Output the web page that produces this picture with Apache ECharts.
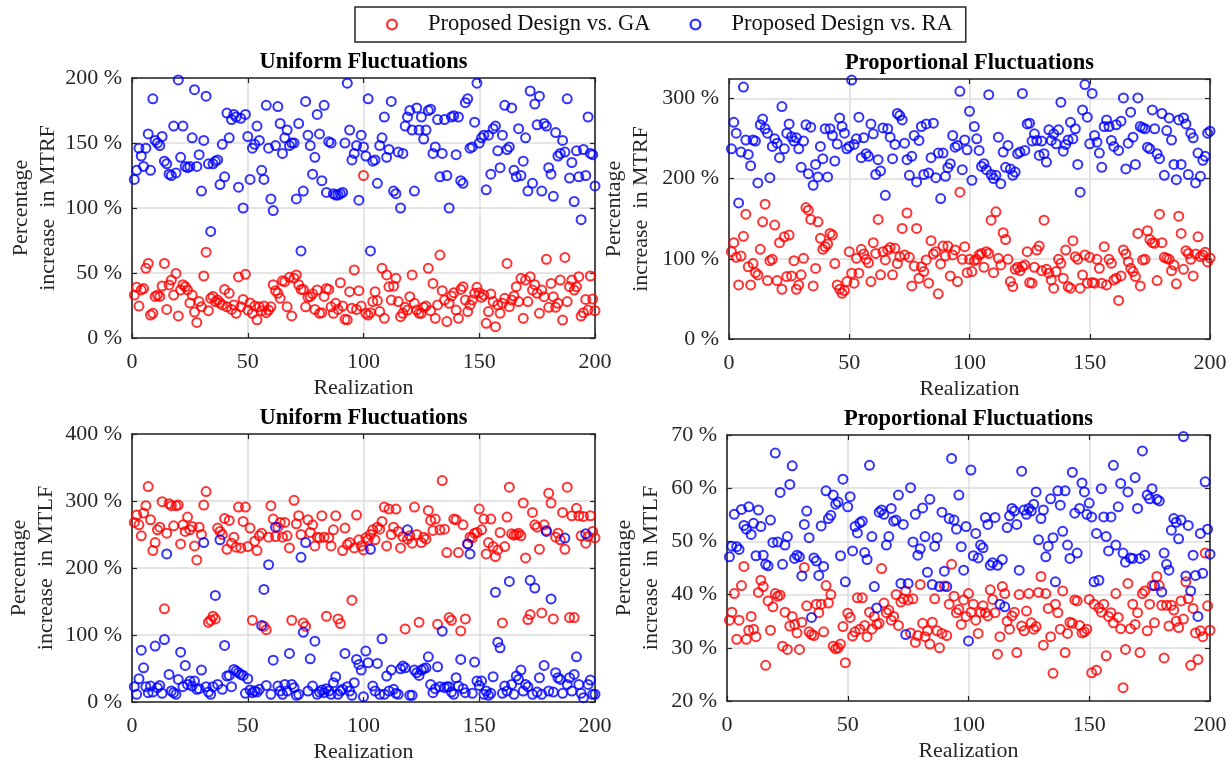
<!DOCTYPE html>
<html>
<head>
<meta charset="utf-8">
<title>Percentage increase in MTRF / MTLF</title>
<script src="https://cdn.jsdelivr.net/npm/echarts@6/dist/echarts.min.js"></script>
<style>
  html, body { margin: 0; padding: 0; background: #fff; }
  #chart { width: 1232px; height: 767px; }
</style>
</head>
<body>
<div id="chart"></div>
<script>
// values, one per realization 1..200

// MTRF, uniform fluctuations
const tlGA = [
  33,39,24.6,37,38,53.6,57.4,17.7,19,32, 33,32,40,57.4,22,40.8,44.6,33,49.7,17,
  37,41,39.5,37,27,33,20,12,28,24, 47.7,66,21,30.5,32,28,29.2,27,25.4,37.4,
  24,34.4,22,25.4,19,47,24,29.7,49,21.5, 27,19,24.6,14,24,21,24.6,19.5,21.5,24,
  41,36.4,34.4,30.5,44,43.3,24,46.7,17,46, 48.5,41,37.4,37.4,24,31.3,32,34,22,37,
  19,19.5,32,38,37.4,24,19,26.7,22,42.5, 24.6,14.4,14,35.6,22.8,52.3,22,36.4,24.6,125,
  19,17.7,19.5,28,35.6,28.7,20.3,53.6,15.1,48.5, 39.5,29.2,40,45.9,28,16.4,19,23.6,21.5,31.8,
  48.5,26.7,21.5,19,19,23.6,24.6,53.6,21,42, 15.1,25.4,63.8,36.4,29.2,12.6,26.7,32.3,34.9,21.5,
  15.1,37.4,39.5,29.2,20.3,25.4,29.2,34.4,39,34.9, 31.3,33,11.3,20.3,33.8,28,8.7,25.4,19,26.7,
  30.5,57.4,24.1,29.2,32.3,39.5,28,45.9,15.1,44.6, 28,47.2,36.9,41,34.4,19,36.9,31.8,60.5,23.6,
  42,31.8,23.6,26.7,44.6,13.8,62,28,39.5,44.6, 36.9,39.5,47.2,16.9,19.5,29.7,21.5,47.7,30,21
];
const tlRA = [
  122,129,146,140,132,146,157,129,184,152, 150,148,155,136,134,126,125,163,127,198.5,
  139,163,132,131,132,154,191,132,141,113, 152,186,134,82,134,136,137,118,149,124,
  173,154,168,172,170,116,169,100,172,155, 122,146,149,163,152,129,122,179,146,107,
  98,148,178,165,142,154,160,148,150,150, 107,165,67,113,182,156,148,126,139,172,
  157,121,179,112,151,150,111,110,110,111, 112,150,196,160,137,142,148,106,156,147,
  140,184,67,136,137,119,148,154,170,139, 145,182,113,111,143,100,142,163,170,175,
  160,113,177,160,170,153,160,175,176,142, 147,168,124,142,168,125,100,170,171,141,
  170,121,119,181,184,146,147,166,196,150, 154,156,114,156,126,161,163,144,131,156,
  179,145,147,177,129,124,161,125,136,154, 113,190,119,180,164,186,113,165,163,131,
  126,109,158,140,142,152,143,184,123,135, 105,144,124,91,145,125,170,142,141,117
];

// MTRF, proportional fluctuations
const trGA = [
  108.8,120,101.8,67.4,103.4,128,155.6,90,67.4,94, 82.7,79.8,111.7,146,168,72.8,97.6,99.3,142,72.8,
  120,62,127.4,77.8,129.5,78.6,97.6,62,67.4,80, 100.5,163.8,160.5,149,66.2,88,146,125.4,111.7,115,
  118.3,131.6,129.5,94,67.4,62,57,60.4,71.6,108.8, 82,69.5,100.5,82,111.7,106,99.3,95,71.6,120,
  106.7,149,80,108.8,98.5,111,114,80,113,94, 102.6,137.8,104.7,157,101.8,66.2,91,137.8,75.7,90,
  84,98.5,69.5,122.5,106,108.8,56.3,93.5,115.8,103.4, 115.8,78.6,104.7,111,71.6,183,99.3,115,82.7,
  99.3,84,97.6,99.3,104.7,106.7,89.4,108.8,106.7,148, 82.7,158.5,100.5,92.3,132.4,124,99.3,71.6,65.4,86.9,
  89.4,85.2,90.2,92.3,108.8,70.3,69.5,89.4,110.9,115.8, 85.2,148,86.9,82,73.6,63.3,84,99.3,94.3,75.7,
  110.9,65.4,63.3,122.5,102.6,99.3,63.3,79.8,104.7,69.5, 101.8,70.3,69.5,99.3,88.1,69.5,115,67.4,99.3,94.3,
  73.6,75.7,48,78.6,110.9,106,96.4,88.1,84,77.8, 131.6,66.2,98.5,99.3,134.9,124,120,119.2,72.8,155.6,
  120,101.8,100.5,99.3,85.2,92.3,68.7,153,131.6,86.9, 110,106.7,99.3,78.6,106,127.4,102.6,104.7,108,96,101
];
const trRA = [
  237,270,256.5,169.6,233,314,248,230,216,248, 246.6,194.5,267,274,262,256.5,201,240,249.5,244,
  226,289.6,237,256.5,268,252,246.6,250.7,237,214, 246.6,267,206,264,191.6,217.6,202,240,224.7,262,
  202,262,253.6,221.8,243,275.5,264.8,256.5,237,240, 322.7,242.4,249.5,276.4,226,250.7,230.9,227.6,268,255.7,
  205,223.4,209.4,263,179,262,251.5,224.7,242.4,281, 278.4,273,244,223.4,204,227.6,253.6,195.7,247.4,264.8,
  205,268,207,226,269,201,231.7,175,231.7,202.7, 213.5,218.4,253.6,239,241.2,308.6,211,248,235.8,283.8,
  197.8,264.8,249.5,235,215,218.4,211,304.5,205,200, 204,251.5,193.6,233,214,241.2,212,204,208,230.9,
  233,306,235,268,269,246.6,255.7,247.4,228.8,246.6, 230.9,220.5,260.7,247.4,255.7,243.3,260.7,295,234,242.4,
  248,270,249.5,262,217.6,183,285.5,317,276.4,243.3, 306,253.6,245.3,231.7,214,264.8,273,264.8,247.4,240,
  267,235,271.4,300.4,212,244,282.6,251.5,217.6,300.4, 264.8,263,262,239,237,285.5,262,230.9,224.7,281,
  204,259.8,275.5,248,217.6,198.6,273,217.6,275.5,268, 205,256.5,250.7,194.5,231.7,202.7,222.6,227.6,256.5,259
];

// MTLF, uniform fluctuations
const blGA = [
  268,279,264.5,248,282,293,321.6,272,226,238, 257,261,299,139,252,296,293,263,293,294,
  236,264.5,254.6,276,257,262,233,212,261,250, 294,314,119,122,128,124,259.6,254.6,250,274,
  228,271,237,246,231,291,230,269.5,291,232, 259.6,122,240,226,248,252,113,108,246,293,
  273,247,261,268,246,268,248,230,122,301, 266,278,250,118,113,272,253,264.5,233,246,
  245,278,246,128,245,233,257,278,124,117, 226,259.6,235,238,152,230,279,242,233,227,
  245,242,250,257,242,261,258,269.5,291,233, 288,250,261,288,254.6,230,247,109,243,248,
  237,291,250,119,238,246,243,286,271,256, 273,116,257,330.5,258,223,126,122,273,272,
  223,106,264.5,124,236,246,245,252,253,288, 257,273,221,238,273,232,217,227,253,118,
  232,276,320.6,251,249,250,252,248,297,215, 123,130.5,283,264.5,261,228,133,264.5,256,311.6,
  297,124,246,252,242,283,228,320.6,126,278, 126,289,278,248,277,237,247,278,254.6,245
];
const blRA = [
  22.8,11.4,34.7,77.4,51,22.8,13.9,23.8,14.9,83.4, 21.3,24.8,12.9,93.3,221,41.2,16.4,13.9,11.4,33.7,
  74.4,22.8,54.6,26.3,31.3,23.8,31.3,18.9,19.9,47.6, 238,22.8,14.9,11.4,22.8,159,26.3,242,18.9,84.4,
  38.7,39.7,22.8,48.6,46.2,43.7,41.2,39.7,12.9,34.7, 17.9,13.9,16.4,14.9,18.9,114,168,24.8,205,11.4,
  62.5,261,23.8,16.4,11.4,26.3,16.4,72.5,26.3,21.3, 9.9,11.4,216,104,238,16.4,64.5,23.8,90.8,11.4,
  14.9,17.9,13.9,19.9,16.4,11.4,28.8,37.7,11.4,16.4, 18.9,72.5,22.8,16.4,9.9,28.8,63.5,56,47.6,7.9,
  76,58.6,228,23.8,16.4,57.6,11.4,94.3,11.4,38.7, 16.4,47.6,18.9,12.9,11.4,49.6,53.6,51,257,9.9,
  9.9,47.6,43.7,39.7,47.6,49.6,51,67.5,26.3,13.9, 19.9,52.6,22.8,105.7,21.3,22.8,22.8,14.9,11.4,36.2,
  23.8,63.5,19.9,13.9,236,221,12.9,59.6,31.3,24.8, 31.3,11.4,16.4,9.9,12.9,37.7,163.8,89.3,80.9,12.9,
  23.8,16.4,180,26.3,11.4,38.7,33.7,47.6,16.4,26.3, 22.8,181.6,11.4,170,14.9,36.2,11.4,54.6,254.6,16.4,
  153.8,14.9,43.7,36.2,33.7,12.9,244.7,26.3,36.2,16.4, 41.2,67.5,26.3,12.9,6.5,251,26.3,32.8,11.4,11.4
];

// MTLF, proportional fluctuations
const brGA = [
  35.2,36.7,40.2,31.6,35.2,41.7,45.3,31.6,33.3,35.9, 33.5,32.1,40.4,42.7,41.5,26.7,38.8,33.3,37.7,40.2,
  39.7,39.9,30.3,36.7,29.7,34.1,35.9,34.4,32.8,29.7, 34.8,45.1,37.9,33,32.5,32.3,38.2,36.6,38.2,33,
  41.7,38.4,40,30.3,29.8,30,30.7,34,27.2,36.5, 35.7,32.2,33,39.4,33.5,39.4,34.2,32.1,36.7,33.5,
  35.9,34.4,34.6,44.9,38.4,36.6,37.1,35.2,35.9,40, 34.2,38.6,39.2,40.7,39,32.8,39.2,31,32.3,41.9,
  34.6,32.1,33.2,30.7,34.8,39.2,33.2,30,32.7,41.6, 32.3,38.2,45.7,39.7,36.6,37.2,34.4,39,35.9,40.2,
  36.7,38.2,35.2,32.7,36.7,37.9,36.6,36,40.9,39.1, 36.6,28.8,32.1,41.5,40.2,35,33.5,36,36.7,29.1,
  40,34.1,33.2,36.9,40.2,34.7,33.5,34,40.4,43.4, 30.5,40.2,37.4,32.1,25.2,38.2,36.6,33.5,40.7,29.1,
  32.7,34.8,34.6,39,38.8,34.2,32.8,33,33.5,39.1, 25.3,38.2,25.8,37.5,36.7,38.2,28.5,35.9,36.6,34.7,
  40.2,35.7,33.6,22.5,29.7,42.1,33.6,38.2,34.4,36.6, 29.1,40.2,40.7,33.2,38.2,41.7,34.7,43.4,41.7,38,
  28.1,38,34.1,38,37.1,35,33.8,38.8,35.4,42.4, 39.2,26.7,37.4,32.8,27.8,33.2,32.1,47.8,37.9,33.3
];
const brRA = [
  47.1,49.1,55.1,49,48.5,56,53,52.3,56.5,51.3, 53.4,47.3,55.9,52.8,47.4,45.7,45.4,54,49.8,66.6,
  49.9,59.2,45.7,49.3,50.9,60.7,64.2,46.8,47.4,47.1, 43.5,53.2,55.7,50.7,35.7,46.9,46.3,43.6,52.9,45.3,
  59.5,54.3,54.9,58.7,57,57.4,47.3,61.7,42.4,56.5, 58.4,48.2,52.8,51.6,53.5,53.8,47.9,46.6,64.3,50.9,
  41.5,37.5,55.5,55.9,55.1,49.3,50.9,56.2,53.8,54, 58.7,42.1,53.2,32.5,42.1,60.1,49.9,55.1,47.4,48.6,
  56.3,50.9,44.2,57.9,41.9,49.1,50.7,41.5,55.5,44.4, 41.5,54.3,65.6,54,52.3,58.7,49,44.6,52.8,31.3,
  63.4,47.3,51.5,46.9,49.3,48.8,54.5,53.2,45.5,46, 54.5,45.5,38.2,46.6,37.7,52.6,54.8,56.2,55.7,53.2,
  44.6,63.2,55.9,55.1,56.2,55.7,57,59.3,50.3,54.3, 55.9,47.1,49.1,58,50.7,42.4,59.5,56.8,51.9,59.5,
  49.3,46.8,63,55.3,47.8,56.2,61,59.3,55.1,57.2, 54.6,42.4,51.5,42.7,59.9,54.6,50.9,48.2,54.6,64.3,
  49.3,56.5,60.9,47.8,46.1,59.3,46.9,46.8,62,56.2, 46.8,67,47.4,58.7,58,59.9,41.7,57.9,57.6,40.5,
  47.8,45.7,44.6,52.1,54.3,53.6,50.5,54,69.7,43.5, 53,40.7,47.4,43.6,35.9,51.5,44,61.2,52.3,47.6
];

const GA_NAME = 'Proposed Design vs. GA';
const RA_NAME = 'Proposed Design vs. RA';
const FONT = "'Liberation Serif', 'Times New Roman', serif";
const INK = '#262626';
// legend marker: an open ring (outer r 6, inner r 3.7) so its stroke matches the plot markers
const RING_ICON = 'path://M12,6A6,6 0 1,0 0,6A6,6 0 1,0 12,6ZM9.7,6A3.7,3.7 0 1,1 2.3,6A3.7,3.7 0 1,1 9.7,6Z';

const panels = [
  { title: 'Uniform Fluctuations', ylabel: 'Percentage\nincrease  in MTRF',
    yMin: 0, yMax: 200, yStep: 50, ga: tlGA, ra: tlRA,
    rect: { left: 132, top: 78, width: 463, height: 260 }, nameGap: 70 },
  { title: 'Proportional Fluctuations', ylabel: 'Percentage\nincrease  in MTRF',
    yMin: 0, yMax: 324, yStep: 100, ga: trGA, ra: trRA,
    rect: { left: 729, top: 79, width: 481, height: 260 }, nameGap: 74 },
  { title: 'Uniform Fluctuations', ylabel: 'Percentage\nincrease  in MTLF',
    yMin: 0, yMax: 400, yStep: 100, ga: blGA, ra: blRA,
    rect: { left: 132, top: 434, width: 463, height: 268 }, nameGap: 72 },
  { title: 'Proportional Fluctuations', ylabel: 'Percentage\nincrease  in MTLF',
    yMin: 20, yMax: 70, yStep: 10, ga: brGA, ra: brRA,
    rect: { left: 727, top: 435, width: 483, height: 266 }, nameGap: 62 }
];

const boxLine = { show: true, onZero: false, lineStyle: { color: INK, width: 1.6 } };
const inTick = { show: true, inside: true, length: 5, lineStyle: { color: INK, width: 1.2 } };
const gridLine = { show: true, lineStyle: { color: '#dcdcdc', width: 1.5 } };

function ring(color) {
  return { color: 'transparent', borderColor: color, borderWidth: 2 };
}

const option = {
  animation: false,
  backgroundColor: '#fff',
  textStyle: { fontFamily: FONT },
  legend: {
    left: 355, top: 7, orient: 'horizontal',
    padding: [6, 13, 6, 31], itemGap: 39,
    itemWidth: 12, itemHeight: 12,
    borderColor: INK, borderWidth: 1.5,
    selectedMode: false,
    textStyle: { fontFamily: FONT, fontSize: 22.5, color: '#111', padding: [0, 0, 0, 25] },
    data: [
      { name: GA_NAME, icon: RING_ICON, itemStyle: { color: '#ff0000', borderWidth: 0 } },
      { name: RA_NAME, icon: RING_ICON, itemStyle: { color: '#0000ff', borderWidth: 0 } }
    ]
  },
  title: [], grid: [], xAxis: [], yAxis: [], series: []
};

panels.forEach((p, i) => {
  option.grid.push(Object.assign({ containLabel: false, outerBoundsMode: 'none' }, p.rect));

  option.title.push({
    text: p.title,
    left: p.rect.left + p.rect.width / 2,
    top: p.rect.top - 27,
    textAlign: 'center',
    padding: 0,
    textStyle: { fontFamily: FONT, fontSize: 22.5, fontWeight: 'bold', color: '#000' }
  });

  const xBase = { gridIndex: i, type: 'value', min: 0, max: 200, interval: 50 };
  option.xAxis.push(Object.assign({}, xBase, {
    position: 'bottom',
    name: 'Realization', nameLocation: 'middle', nameGap: 39,
    nameTextStyle: { fontFamily: FONT, fontSize: 22, color: INK },
    axisLine: boxLine, axisTick: inTick, splitLine: gridLine,
    axisLabel: { margin: 13, fontFamily: FONT, fontSize: 22, color: INK }
  }));
  option.xAxis.push(Object.assign({}, xBase, {
    position: 'top',
    axisLine: boxLine, axisTick: inTick, splitLine: { show: false },
    axisLabel: { show: false }
  }));

  const yBase = { gridIndex: i, type: 'value', min: p.yMin, max: p.yMax, interval: p.yStep };
  option.yAxis.push(Object.assign({}, yBase, {
    position: 'left',
    name: p.ylabel, nameLocation: 'middle', nameGap: p.nameGap, nameRotate: 90,
    nameTextStyle: { fontFamily: FONT, fontSize: 22, color: INK, lineHeight: 27, align: 'center' },
    axisLine: boxLine, axisTick: inTick, splitLine: gridLine,
    axisLabel: {
      margin: 10, fontFamily: FONT, fontSize: 22, color: INK,
      formatter: '{value} %',
      showMaxLabel: (p.yMax - p.yMin) % p.yStep === 0
    }
  }));
  option.yAxis.push(Object.assign({}, yBase, {
    position: 'right',
    axisLine: boxLine, axisTick: inTick, splitLine: { show: false },
    axisLabel: { show: false }
  }));

  const common = {
    type: 'scatter', xAxisIndex: 2 * i, yAxisIndex: 2 * i,
    symbol: 'circle', symbolSize: 9, emphasis: { disabled: true }
  };
  option.series.push(Object.assign({}, common, {
    name: GA_NAME, itemStyle: ring('#ff0000'),
    data: p.ga.map((v, k) => [k + 1, v])
  }));
  option.series.push(Object.assign({}, common, {
    name: RA_NAME, itemStyle: ring('#0000ff'),
    data: p.ra.map((v, k) => [k + 1, v])
  }));
});

const chart = echarts.init(document.getElementById('chart'), null, { renderer: 'canvas' });
chart.setOption(option);
</script>
</body>
</html>
